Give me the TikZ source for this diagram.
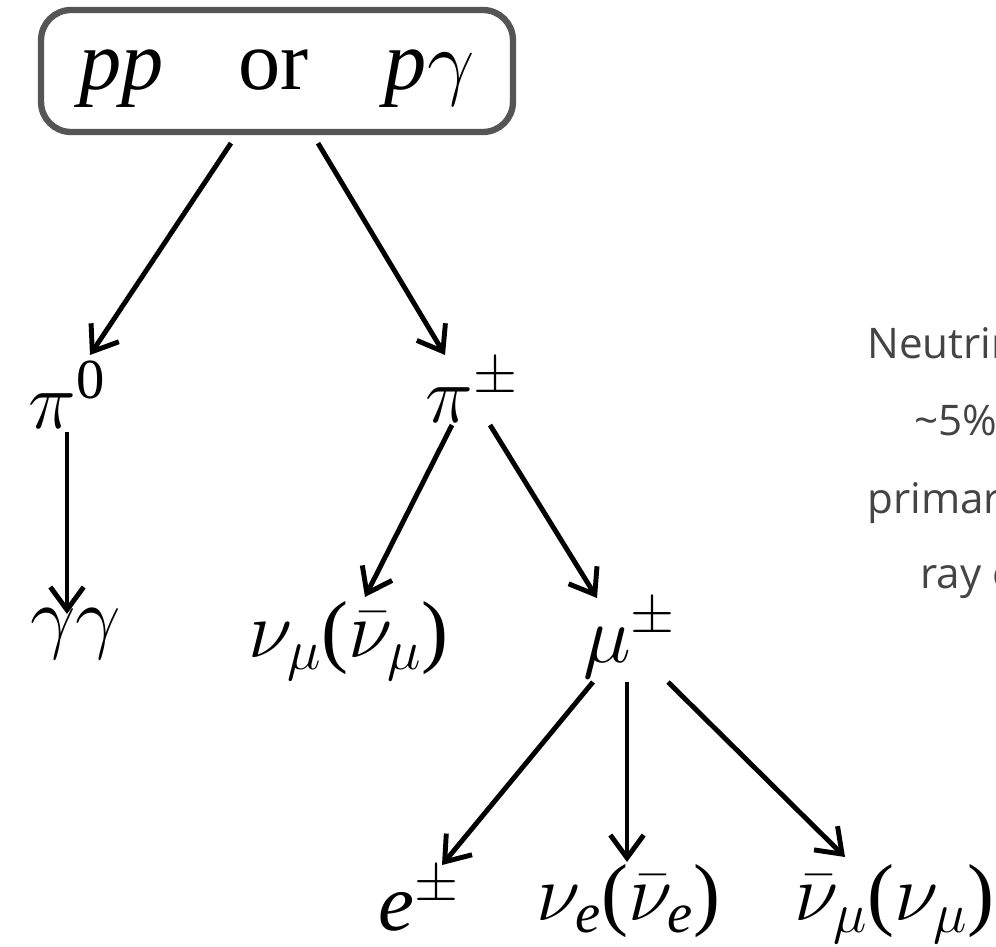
\documentclass[tikz,border=0pt]{standalone}
\usepackage{fix-cm}
\usepackage{amsmath}
\usepackage{fontspec}
\setmainfont{Liberation Serif}
\newfontfamily\notefont{Open Sans}
\usepackage{xcolor}
\usetikzlibrary{arrows.meta}

\definecolor{boxgray}{RGB}{85,85,85}
\definecolor{notegray}{RGB}{68,68,68}

% 斜体拉丁字母与括号（Liberation Serif）
\newcommand{\pt}[1]{\textit{#1}}
\newcommand{\lp}{\text{(}}
\newcommand{\rp}{\text{)}}

\begin{document}
\begin{tikzpicture}[
    x=0.02cm, y=-0.02cm,                    % 1 单位 = 参考图 1 像素
    every node/.style={font=\fontsize{46}{54}\selectfont, inner sep=0pt},
    particle/.style={anchor=base west},
    srcbox/.style={draw=boxgray, line width=3.6pt, rounded corners=0.6cm,
      minimum width=9.44cm, minimum height=2.44cm,
      text height=1.12cm, text depth=0.36cm,
      font=\fontsize{48}{56}\selectfont},
    decay/.style={line width=2.8pt,
      -{Straight Barb[length=13pt, width=19pt, line width=2.8pt]}},
    note/.style={anchor=base west, font=\notefont\fontsize{24}{29}\selectfont,
      text=notegray},
  ]
    \useasboundingbox (0, 0) rectangle (996, 946);
    \clip (0, 0) rectangle (996, 946);

    % 初始反应
    \node[srcbox] (src) at (277, 71)
      {\pt{pp}\hspace{1.5cm}or\hspace{1.52cm}\pt{p}$\gamma$\hspace{1.7cm}};

    % 介子
    \node[particle] (pi0)  at (28, 428)  {$\pi^{\text{0}}$};
    \node[particle] (pipm) at (425, 422) {$\pi^{\pm}$};

    % 第二层衰变产物
    \node[particle] (gg)   at (30, 643)  {$\gamma\gamma$};
    \node[particle] (numu) at (248, 657) {$\nu_{\mu}\lp\bar{\nu}_{\mu}\rp$};
    \node[particle] (mu)   at (583, 662) {$\mu^{\pm}$};

    % 缪子衰变产物
    \node[particle] (ep)    at (378, 930) {$\pt{e}^{\pm}$};
    \node[particle] (nue)   at (536, 920) {$\nu_{\pt{e}}\lp\bar{\nu}_{\pt{e}}\rp$};
    \node[particle] (numub) at (794, 920) {$\bar{\nu}_{\mu}\lp\nu_{\mu}\rp$};

    % 衰变箭头
    \draw[decay] ([shift={(-46, 8)}]src.south) -- ([shift={(62, -73)}]pi0.base west);
    \draw[decay] ([shift={(41, 8)}]src.south)  -- ([shift={(20, -67)}]pipm.base west);
    \draw[decay] ([shift={(39, 4)}]pi0.base west) -- ([shift={(37, -29)}]gg.base west);
    \draw[decay] ([shift={(27, 3)}]pipm.base west) -- ([shift={(117, -60)}]numu.base west);
    \draw[decay] ([shift={(65, 3)}]pipm.base west) -- ([shift={(14, -64)}]mu.base west);
    \draw[decay] ([shift={(10, 20)}]mu.base west) -- ([shift={(64, -65)}]ep.base west);
    \draw[decay] ([shift={(44, 20)}]mu.base west) -- ([shift={(91, -58)}]nue.base west);
    \draw[decay] ([shift={(85, 20)}]mu.base west) -- ([shift={(51, -63)}]numub.base west);

    % 右侧说明（被画面右缘截断）
    \node[note] (note1) at (867, 358) {Neutrin};
    \node[note] (note2) at (914, 435) {\textasciitilde 5\% o};
    \node[note] (note3) at (867, 513) {primar};
    \node[note] (note4) at (920, 588) {ray e};
\end{tikzpicture}
\end{document}
